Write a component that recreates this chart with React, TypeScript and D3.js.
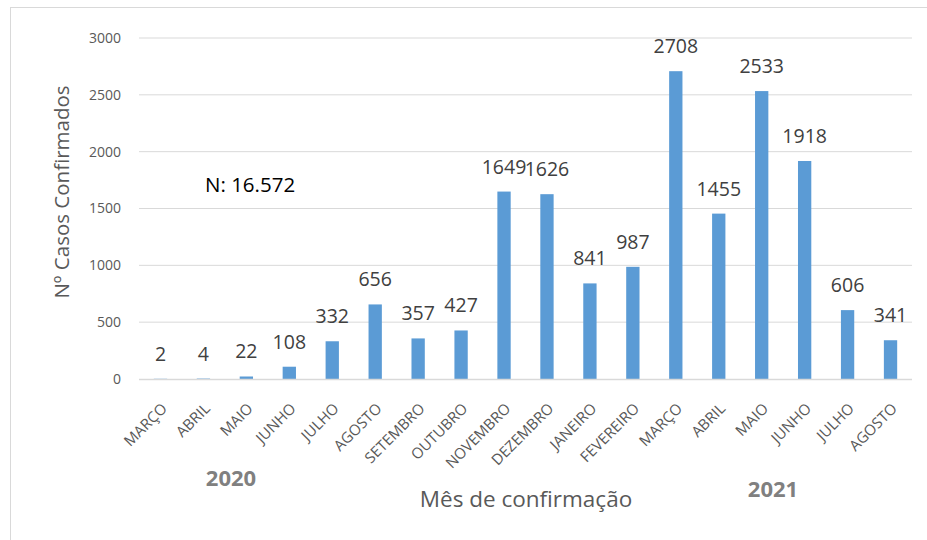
import React from 'react';
import * as d3 from 'd3';

const months = ['MARÇO', 'ABRIL', 'MAIO', 'JUNHO', 'JULHO', 'AGOSTO', 'SETEMBRO', 'OUTUBRO', 'NOVEMBRO', 'DEZEMBRO',
  'JANEIRO', 'FEVEREIRO', 'MARÇO', 'ABRIL', 'MAIO', 'JUNHO', 'JULHO', 'AGOSTO'];
const cases = [2, 4, 22, 108, 332, 656, 357, 427, 1649, 1626, 841, 987, 2708, 1455, 2533, 1918, 606, 341];
const yTicks = [0, 500, 1000, 1500, 2000, 2500, 3000];

const W = 927;
const H = 540;
const font = "'Open Sans', 'Noto Sans', sans-serif";

export default function App() {
  const ids = months.map((_, i) => String(i));
  const x = d3.scaleBand().domain(ids).range([139, 912]).paddingInner(0.69).paddingOuter(0.345);
  const y = d3.scaleLinear().domain([0, 3000]).range([379, 38]);

  return (
    <svg width={W} height={H} style={{ position: 'absolute', left: 0, top: 0, background: '#fff' }} fontFamily={font}>
      {/* chart frame */}
      <rect x={10.5} y={7.5} width={1000} height={1000} fill="none" stroke="#d9d9d9" strokeWidth={1} />

      {/* gridlines + y ticks */}
      {yTicks.map(t => (
        <g key={t}>
          {t > 0 && <line x1={139} x2={912} y1={y(t)} y2={y(t)} stroke="#d9d9d9" strokeWidth={1} />}
          <text x={121} y={y(t)} dy="0.35em" textAnchor="end" fontSize={14} fill="#595959">{t}</text>
        </g>
      ))}

      {/* bars */}
      {cases.map((v, i) => (
        <rect key={i} x={x(ids[i])} y={y(v)} width={x.bandwidth()} height={y(0) - y(v)} fill="#5b9bd5" />
      ))}
      <line x1={139} x2={912} y1={379.5} y2={379.5} stroke="#d9d9d9" strokeWidth={1.5} />

      {/* data labels */}
      {cases.map((v, i) => (
        <text key={i} x={x(ids[i])! + x.bandwidth() / 2} y={y(v) - 18} textAnchor="middle" fontSize={19.5} fill="#404040">{v}</text>
      ))}

      {/* x labels */}
      {months.map((m, i) => {
        const cx = x(ids[i])! + x.bandwidth() / 2 + 7.5;
        return (
          <text key={i} transform={`translate(${cx},${409.5}) rotate(-45)`} textAnchor="end" fontSize={15} fill="#595959">{m}</text>
        );
      })}

      {/* titles */}
      <text transform={`translate(69,192) rotate(-90)`} textAnchor="middle" fontSize={20.5} fill="#595959">Nº Casos Confirmados</text>
      <text x={526} y={507} textAnchor="middle" fontSize={22.5} fill="#595959">Mês de confirmação</text>
      <text x={231} y={486} textAnchor="middle" fontSize={22} fontWeight="bold" fill="#808080">2020</text>
      <text x={773} y={497} textAnchor="middle" fontSize={22} fontWeight="bold" fill="#808080">2021</text>
      <text x={205} y={192} fontSize={20.5} fill="#000">N: 16.572</text>
    </svg>
  );
}
